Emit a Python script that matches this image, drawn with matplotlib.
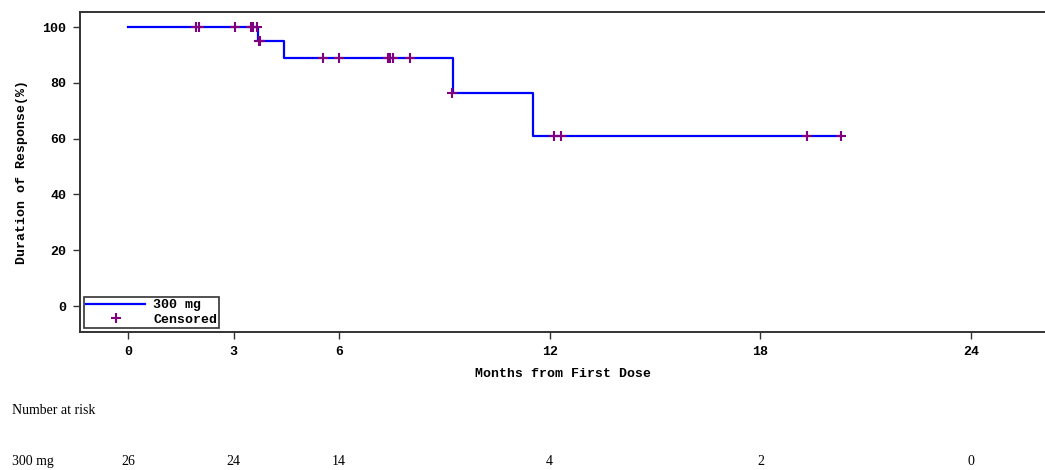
import matplotlib.pyplot as plt
import numpy as np

# Kaplan-Meier steps (months, percent)
step_t = [0, 3.70, 4.43, 9.24, 11.52, 20.3]
step_s = [100, 95.0, 88.9, 76.2, 61.1, 61.1]

# censored observations
cens_t = [1.93, 2.02, 3.04, 3.50, 3.55, 3.67, 3.72, 3.76,
          5.54, 6.00, 7.39, 7.45, 7.53, 8.02, 9.21,
          12.11, 12.31, 19.33, 20.30]
cens_s = [100, 100, 100, 100, 100, 100, 95.0, 95.0,
          88.9, 88.9, 88.9, 88.9, 88.9, 88.9, 76.2,
          61.1, 61.1, 61.1, 61.1]

xticks = [0, 3, 6, 12, 18, 24]
yticks = [0, 20, 40, 60, 80, 100]
risk_t = [0, 3, 6, 12, 18, 24]
risk_n = [26, 24, 14, 4, 2, 0]

mono = 'Liberation Mono'
tab = 'Liberation Serif'
fs = 9.5

fig = plt.figure(figsize=(10.45, 4.7), dpi=100)
ax = fig.add_axes([0.0766, 0.2936, 0.9234, 0.6809])

ax.step(step_t, step_s, where='post', color='#0000ff', lw=1.6, label='300 mg')
ax.plot(cens_t, cens_s, '+', color='#800080', ms=7, mew=1.5, label='Censored')

ax.set_xlim(-1.37, 26.1)
ax.set_ylim(-9.3, 105.4)
ax.set_xticks(xticks)
ax.set_yticks(yticks)
ax.tick_params(direction='out', length=5, width=1, color='#333333', pad=5)
for lab in ax.get_xticklabels() + ax.get_yticklabels():
    lab.set_fontfamily(mono)
    lab.set_fontweight('bold')
    lab.set_fontsize(fs)
for s in ['left', 'bottom', 'top']:
    ax.spines[s].set_color('#333333')
    ax.spines[s].set_linewidth(1.4)
ax.spines['right'].set_visible(False)

ax.set_xlabel('Months from First Dose', fontfamily=mono, fontweight='bold',
              fontsize=fs, labelpad=7)
ax.set_ylabel('Duration of Response(%)', fontfamily=mono, fontweight='bold',
              fontsize=fs, labelpad=10)

leg = ax.legend(loc='lower left', prop={'family': mono, 'weight': 'bold', 'size': fs},
                fancybox=False, edgecolor='#333333', framealpha=1,
                borderpad=0.15, handlelength=4.5, handletextpad=0.6,
                labelspacing=0.2, borderaxespad=0.3)
leg.get_frame().set_linewidth(1.2)

# number at risk table
fig.text(12 / 1045, 1 - 410 / 470, 'Number at risk', family=tab,
         fontsize=10, va='center', ha='left')
fig.text(12 / 1045, 1 - 462 / 470, '300 mg', family=tab,
         fontsize=10, va='center', ha='left')
trans = ax.get_xaxis_transform()
for t, n in zip(risk_t, risk_n):
    ax.text(t, -0.406, str(n), transform=trans, family=tab,
            fontsize=10, ha='center', va='center', clip_on=False)

plt.savefig('out.png', dpi=100)
